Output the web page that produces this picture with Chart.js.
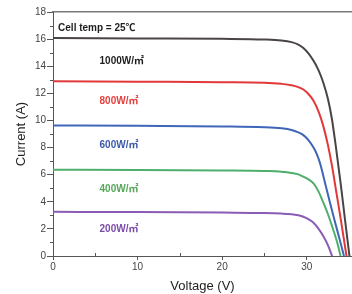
<!DOCTYPE html>
<html>
<head>
<meta charset="utf-8">
<script src="https://cdn.jsdelivr.net/npm/chart.js@4/dist/chart.umd.min.js"></script>
<style>
html,body{margin:0;padding:0;background:#fff;}
#wrap{width:352px;height:294px;}
</style>
</head>
<body>
<div id="wrap"><canvas id="c" width="352" height="294"></canvas></div>
<script>
// ---- Data ----
const seriesNames = ['1000W/㎡', '800W/㎡', '600W/㎡', '400W/㎡', '200W/㎡'];

const volt1000 = [0, 10, 20, 25, 27, 28.2, 29.0, 29.6, 30.2, 30.8, 31.4, 31.95, 32.5, 32.95, 33.5, 34.0, 34.5, 35.05];
const curr1000 = [16.08, 16.05, 16.02, 15.97, 15.9, 15.78, 15.6, 15.35, 14.95, 14.4, 13.7, 12.8, 11.6, 10.2, 7.8, 5.4, 2.8, 0];

const volt800 = [0, 10, 20, 25, 27, 28.2, 29.0, 29.6, 30.2, 30.8, 31.4, 31.95, 32.5, 33.0, 33.5, 34.0, 34.35, 34.7];
const curr800 = [12.9, 12.86, 12.82, 12.78, 12.7, 12.6, 12.46, 12.28, 11.95, 11.45, 10.65, 9.6, 8.2, 6.6, 4.7, 2.8, 1.4, 0];

const volt600 = [0, 10, 20, 25, 27, 28.2, 29.0, 29.6, 30.2, 30.8, 31.2, 31.56, 32.2, 32.75, 33.3, 33.9, 34.4];
const curr600 = [9.63, 9.6, 9.56, 9.5, 9.42, 9.3, 9.12, 8.92, 8.55, 8.0, 7.5, 6.87, 5.3, 3.93, 2.6, 1.2, 0];

const volt400 = [0, 10, 20, 25, 27, 28.2, 29.0, 29.6, 30.2, 30.8, 31.4, 31.95, 32.5, 33.1, 33.6, 34.0];
const curr400 = [6.37, 6.35, 6.31, 6.27, 6.22, 6.13, 6.02, 5.85, 5.65, 5.35, 4.75, 3.95, 3.1, 2.0, 1.0, 0];

const volt200 = [0, 10, 20, 25, 27, 28.2, 29.0, 29.6, 30.2, 30.8, 31.4, 31.95, 32.5, 33.0];
const curr200 = [3.26, 3.24, 3.2, 3.17, 3.13, 3.08, 3.0, 2.9, 2.72, 2.45, 2.0, 1.47, 0.8, 0];

const xTickValues = [0, 10, 20, 30];
const yTickValues = [0, 2, 4, 6, 8, 10, 12, 14, 16, 18];

// ---- build ----
function pts(v, c) { return v.map((x, i) => ({ x: x, y: c[i] })); }
const lineColors = ['#4a4444', '#e2383a', '#3f66b8', '#4fae6c', '#8a5cb6'];
const labelColors = ['#1e1e1e', '#e2403d', '#3c5aaa', '#55a659', '#7a4da8'];
const seriesData = [pts(volt1000, curr1000), pts(volt800, curr800), pts(volt600, curr600), pts(volt400, curr400), pts(volt200, curr200)];

const FONT = "'Liberation Sans', Arial, 'Noto Sans CJK SC', sans-serif";

const annot = {
  id: 'annot',
  afterDatasetsDraw(chart) {
    const ctx = chart.ctx, xs = chart.scales.x, ys = chart.scales.y;
    ctx.save();
    // minor ticks
    ctx.strokeStyle = '#555'; ctx.lineWidth = 1;
    for (let v = 1; v < 18; v += 2) {
      const py = Math.round(ys.getPixelForValue(v)) + 0.5;
      ctx.beginPath(); ctx.moveTo(xs.left - 3, py); ctx.lineTo(xs.left, py); ctx.stroke();
    }
    for (let v = 5; v < 35; v += 10) {
      const px = Math.round(xs.getPixelForValue(v)) + 0.5;
      ctx.beginPath(); ctx.moveTo(px, ys.bottom - 3); ctx.lineTo(px, ys.bottom); ctx.stroke();
    }
    // texts
    ctx.textBaseline = 'middle';
    ctx.textAlign = 'left';
    ctx.font = 'bold 10px ' + FONT;
    ctx.fillStyle = '#1e1e1e';
    ctx.fillText('Cell temp = 25℃', xs.getPixelForValue(0.6), ys.getPixelForValue(16.78));
    const labelY = [14.33, 11.39, 8.16, 4.9, 1.96];
    seriesNames.forEach((n, i) => {
      ctx.fillStyle = labelColors[i];
      ctx.fillText(n, xs.getPixelForValue(5.5), ys.getPixelForValue(labelY[i]));
    });
    ctx.restore();
  }
};

new Chart(document.getElementById('c'), {
  type: 'line',
  data: {
    datasets: seriesData.map((d, i) => ({
      label: seriesNames[i],
      data: d,
      borderColor: lineColors[i],
      borderWidth: 2,
      pointRadius: 0,
      fill: false,
      cubicInterpolationMode: 'monotone'
    }))
  },
  options: {
    responsive: false,
    animation: false,
    layout: { padding: { top: 12, right: 0, bottom: 0, left: 0 } },
    plugins: { legend: { display: false }, tooltip: { enabled: false } },
    scales: {
      x: {
        type: 'linear', min: 0, max: 35.35,
        afterBuildTicks: s => { s.ticks = xTickValues.map(v => ({ value: v })); },
        ticks: { color: '#444', font: { family: FONT, size: 10 }, padding: 1, maxRotation: 0 },
        grid: { drawOnChartArea: false, drawTicks: true, tickLength: 4, color: '#555' },
        border: { display: true, color: '#555', width: 1 },
        title: { display: true, text: 'Voltage (V)', color: '#222', font: { family: FONT, size: 13 }, padding: { top: 3, bottom: 0 } },
        afterFit: s => { s.height = 38; }
      },
      x2: {
        type: 'linear', position: 'top', min: 0, max: 35.35,
        ticks: { display: false },
        grid: { display: false, drawTicks: false },
        border: { display: true, color: '#7a7a7a', width: 1.5 },
        afterFit: s => { s.height = 0; }
      },
      y: {
        type: 'linear', min: 0, max: 18,
        afterBuildTicks: s => { s.ticks = yTickValues.map(v => ({ value: v })); },
        ticks: { color: '#444', font: { family: FONT, size: 10 }, padding: 1 },
        grid: { drawOnChartArea: false, drawTicks: true, tickLength: 6, color: '#555' },
        border: { display: true, color: '#555', width: 1 },
        title: { display: true, text: 'Current (A)', color: '#222', font: { family: FONT, size: 13 }, padding: { top: 14, bottom: 0 } },
        afterFit: s => { s.width = 53; }
      }
    }
  },
  plugins: [annot]
});
</script>
</body>
</html>
